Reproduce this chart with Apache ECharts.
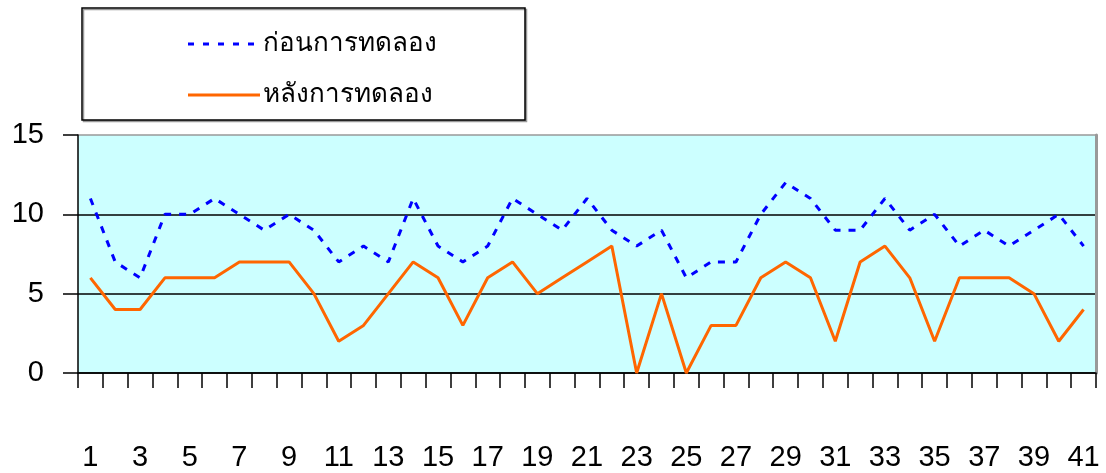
<!DOCTYPE html>
<html>
<head>
<meta charset="utf-8">
<script src="https://cdn.jsdelivr.net/npm/echarts@6/dist/echarts.min.js"></script>
<style>html,body{margin:0;padding:0;background:#fff;}#c{width:1106px;height:473px;}</style>
</head>
<body>
<div id="c"></div>
<script>
const categories = ['1','2','3','4','5','6','7','8','9','10','11','12','13','14','15','16','17','18','19','20','21','22','23','24','25','26','27','28','29','30','31','32','33','34','35','36','37','38','39','40','41'];
const before = [11,7,6,10,10,11,10,9,10,9,7,8,7,11,8,7,8,11,10,9,11,9,8,9,6,7,7,10,12,11,9,9,11,9,10,8,9,8,9,10,8];
const after = [6,4,4,6,6,6,7,7,7,5,2,3,5,7,6,3,6,7,5,6,7,8,0,5,0,3,3,6,7,6,2,7,8,6,2,6,6,6,5,2,4];
const seriesNames = ['ก่อนการทดลอง','หลังการทดลอง'];
const yTicks = [0,5,10,15];

const FONT = '"Liberation Sans", Arial, "Noto Sans", sans-serif';
const dashIcon = 'path://M0,5.5h6v3h-6z M15,5.5h6v3h-6z M30,5.5h6v3h-6z M45,5.5h6v3h-6z M60,5.5h6v3h-6z M0,0h0.01v0.01h-0.01z M72,14h-0.01v-0.01h0.01z';
const solidIcon = 'path://M0,5.5h72v3h-72z M0,0h0.01v0.01h-0.01z M72,14h-0.01v-0.01h0.01z';
const chart = echarts.init(document.getElementById('c'), null, {renderer:'canvas'});
chart.setOption({
  animation:false,
  backgroundColor:'#ffffff',
  graphic:[{
    type:'rect', z:0,
    shape:{x:82,y:8,width:443,height:112},
    style:{fill:'#fff',stroke:'#000',lineWidth:1.5,shadowColor:'#999',shadowOffsetX:1.5,shadowOffsetY:1.5,shadowBlur:0}
  }],
  legend:{
    orient:'vertical', left:183, top:24, itemWidth:72, itemHeight:14, itemGap:21,
    textStyle:{fontFamily:FONT,fontSize:26,color:'#000',lineHeight:30,padding:[0,0,0,-2]},
    data:[{name:seriesNames[0],icon:dashIcon},{name:seriesNames[1],icon:solidIcon}], z:5
  },
  grid:{left:78,right:10,top:135,bottom:100,show:true,backgroundColor:'#CCFFFF',borderWidth:0},
  xAxis:{
    type:'category', data:categories, boundaryGap:true,
    axisLine:{lineStyle:{color:'#000',width:1.5}},
    axisTick:{show:true,interval:0,length:15,lineStyle:{color:'#000',width:1.5}},
    axisLabel:{interval:1,margin:70,fontFamily:FONT,fontSize:29,color:'#000'}
  },
  yAxis:[{
    type:'value', min:yTicks[0], max:yTicks[yTicks.length-1], interval:5,
    axisLine:{show:true,lineStyle:{color:'#000',width:1.5}},
    axisTick:{show:true,length:15,lineStyle:{color:'#000',width:1.5}},
    axisLabel:{margin:34,fontFamily:FONT,fontSize:29,color:'#000'},
    splitLine:{show:true,lineStyle:{color:['#000','#000','#000','#999'],width:1.5}}
  },{
    type:'value', position:'right', min:yTicks[0], max:yTicks[yTicks.length-1], interval:5,
    axisLine:{show:true,lineStyle:{color:'#999',width:3}},
    axisTick:{show:false}, axisLabel:{show:false}, splitLine:{show:false}
  }],
  series:[{
    name:seriesNames[0], type:'line', data:before, symbol:'none',
    lineStyle:{color:'#0000FF',width:3,type:[7,8]}, itemStyle:{color:'#0000FF'}
  },{
    name:seriesNames[1], type:'line', data:after, symbol:'none',
    lineStyle:{color:'#FF6600',width:3}, itemStyle:{color:'#FF6600'}
  }]
});
</script>
</body>
</html>
